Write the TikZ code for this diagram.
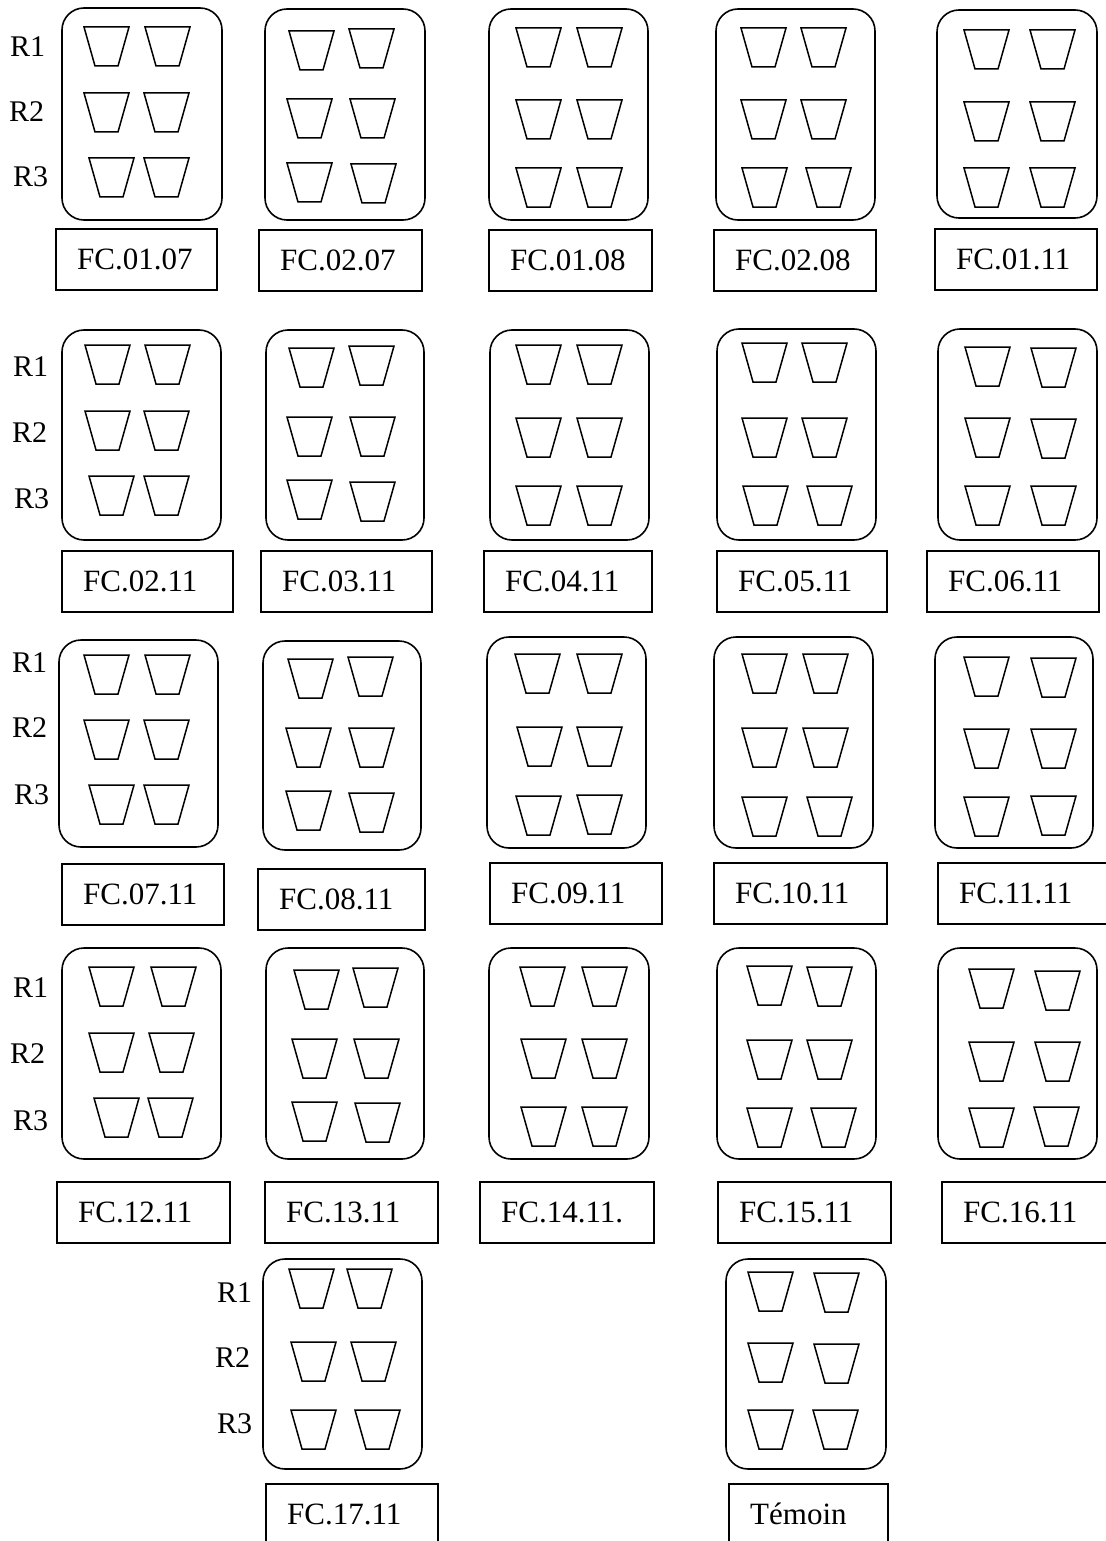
\documentclass[tikz,border=0pt]{standalone}
\usepackage{fontspec}
\setmainfont{Liberation Serif}
\tikzset{
  trayline/.style={draw=black, line width=1.6pt, rounded corners=22pt},
  boxline/.style={draw=black, line width=1.6pt},
  cupline/.style={draw=black, line width=1.5pt, line join=miter},
  tagtext/.style={anchor=base west, inner sep=0pt, font=\fontsize{31}{37}\selectfont},
  rtext/.style={anchor=base west, inner sep=0pt, font=\fontsize{30}{36}\selectfont},
  cupshape/.pic={\draw[cupline] (0,0) -- (45,0) -- (34,39) -- (11,39) -- cycle;}
}
\newcommand{\fcplate}[5]{%
  \draw[trayline] (#1,#2) rectangle (#3,#4);
  \foreach \cx/\cy in {#5} {\pic at (\cx,\cy) {cupshape};}
}
\newcommand{\fctag}[5]{%
  \draw[boxline] (#2,#3) rectangle (#4,#3+61);
  \node[tagtext] (#1) at (#2+21,#3+40) {#5};
}
\begin{document}
\begin{tikzpicture}[x=1pt,y=-1pt]
\useasboundingbox (0,0) rectangle (1105,1541);
\fill[white] (0,0) rectangle (1105,1541);

% Row 1
\fcplate{62}{8}{222}{220}{84/27,145/27,84/93,144/93,89/158,144/158}
\fcplate{265}{9}{425}{220}{289/31,349/29,287/99,350/99,287/163,351/164}
\fcplate{489}{9}{648}{220}{516/28,577/28,516/100,577/100,516/168,577/168}
\fcplate{716}{9}{875}{220}{741/28,801/28,741/100,801/100,742/168,806/168}
\fcplate{937}{10}{1097}{218}{964/30,1030/30,964/102,1030/102,964/168,1030/168}
\fctag{l1}{56}{229}{217}{FC.01.07}
\fctag{l2}{259}{230}{422}{FC.02.07}
\fctag{l3}{489}{230}{652}{FC.01.08}
\fctag{l4}{714}{230}{876}{FC.02.08}
\fctag{l5}{935}{229}{1097}{FC.01.11}
\node[rtext] (r1a) at (10,57) {R1};
\node[rtext] (r2a) at (9,122) {R2};
\node[rtext] (r3a) at (13,187) {R3};

% Row 2
\fcplate{62}{330}{221}{540}{85/345,145/345,85/411,144/411,89/476,144/476}
\fcplate{266}{330}{424}{540}{289/348,349/346,287/417,350/417,287/480,350/482}
\fcplate{490}{330}{649}{540}{516/345,577/345,516/418,577/418,516/486,577/486}
\fcplate{717}{329}{876}{540}{742/343,802/343,742/418,802/418,743/486,807/486}
\fcplate{938}{329}{1097}{540}{965/347,1031/348,965/418,1031/419,965/486,1031/486}
\fctag{l6}{62}{551}{233}{FC.02.11}
\fctag{l7}{261}{551}{432}{FC.03.11}
\fctag{l8}{484}{551}{652}{FC.04.11}
\fctag{l9}{717}{551}{887}{FC.05.11}
\fctag{l10}{927}{551}{1099}{FC.06.11}
\node[rtext] (r1b) at (13,376) {R1};
\node[rtext] (r2b) at (12,442) {R2};
\node[rtext] (r3b) at (14,508) {R3};

% Row 3
\fcplate{59}{640}{218}{847}{84/655,145/655,84/720,144/720,89/785,144/785}
\fcplate{263}{641}{421}{850}{288/659,348/657,286/728,349/728,286/791,349/793}
\fcplate{487}{637}{646}{848}{515/654,577/654,517/727,577/727,516/796,577/795}
\fcplate{714}{637}{873}{848}{742/654,803/654,742/728,803/728,742/797,807/797}
\fcplate{935}{637}{1093}{848}{964/657,1031/658,964/729,1031/729,964/797,1031/796}
\fctag{l11}{62}{864}{224}{FC.07.11}
\fctag{l12}{258}{869}{425}{FC.08.11}
\fctag{l13}{490}{863}{662}{FC.09.11}
\fctag{l14}{714}{863}{887}{FC.10.11}
\fctag{l15}{938}{863}{1108}{FC.11.11}
\node[rtext] (r1c) at (12,672) {R1};
\node[rtext] (r2c) at (12,737) {R2};
\node[rtext] (r3c) at (14,804) {R3};

% Row 4
\fcplate{62}{948}{221}{1159}{89/967,151/967,89/1033,149/1033,94/1098,148/1098}
\fcplate{266}{948}{424}{1159}{294/970,353/968,292/1039,354/1039,292/1102,355/1103}
\fcplate{489}{948}{649}{1159}{520/967,582/967,521/1039,582/1039,521/1107,582/1107}
\fcplate{717}{948}{876}{1159}{747/966,807/967,747/1040,807/1040,747/1108,811/1108}
\fcplate{938}{948}{1097}{1159}{969/969,1035/971,969/1042,1035/1042,969/1108,1034/1107}
\fctag{l16}{57}{1182}{230}{FC.12.11}
\fctag{l17}{265}{1182}{438}{FC.13.11}
\fctag{l18}{480}{1182}{654}{FC.14.11.}
\fctag{l19}{718}{1182}{891}{FC.15.11}
\fctag{l20}{942}{1182}{1108}{FC.16.11}
\node[rtext] (r1d) at (13,997) {R1};
\node[rtext] (r2d) at (10,1063) {R2};
\node[rtext] (r3d) at (13,1130) {R3};

% Row 5
\fcplate{263}{1259}{422}{1469}{289/1269,347/1269,291/1342,351/1342,291/1410,355/1410}
\fcplate{726}{1259}{886}{1469}{748/1272,814/1273,748/1343,814/1344,748/1410,813/1410}
\fctag{l21}{266}{1484}{438}{FC.17.11}
\fctag{l22}{729}{1484}{888}{Témoin}
\node[rtext] (r1e) at (217,1302) {R1};
\node[rtext] (r2e) at (215,1367) {R2};
\node[rtext] (r3e) at (217,1433) {R3};
\end{tikzpicture}
\end{document}
